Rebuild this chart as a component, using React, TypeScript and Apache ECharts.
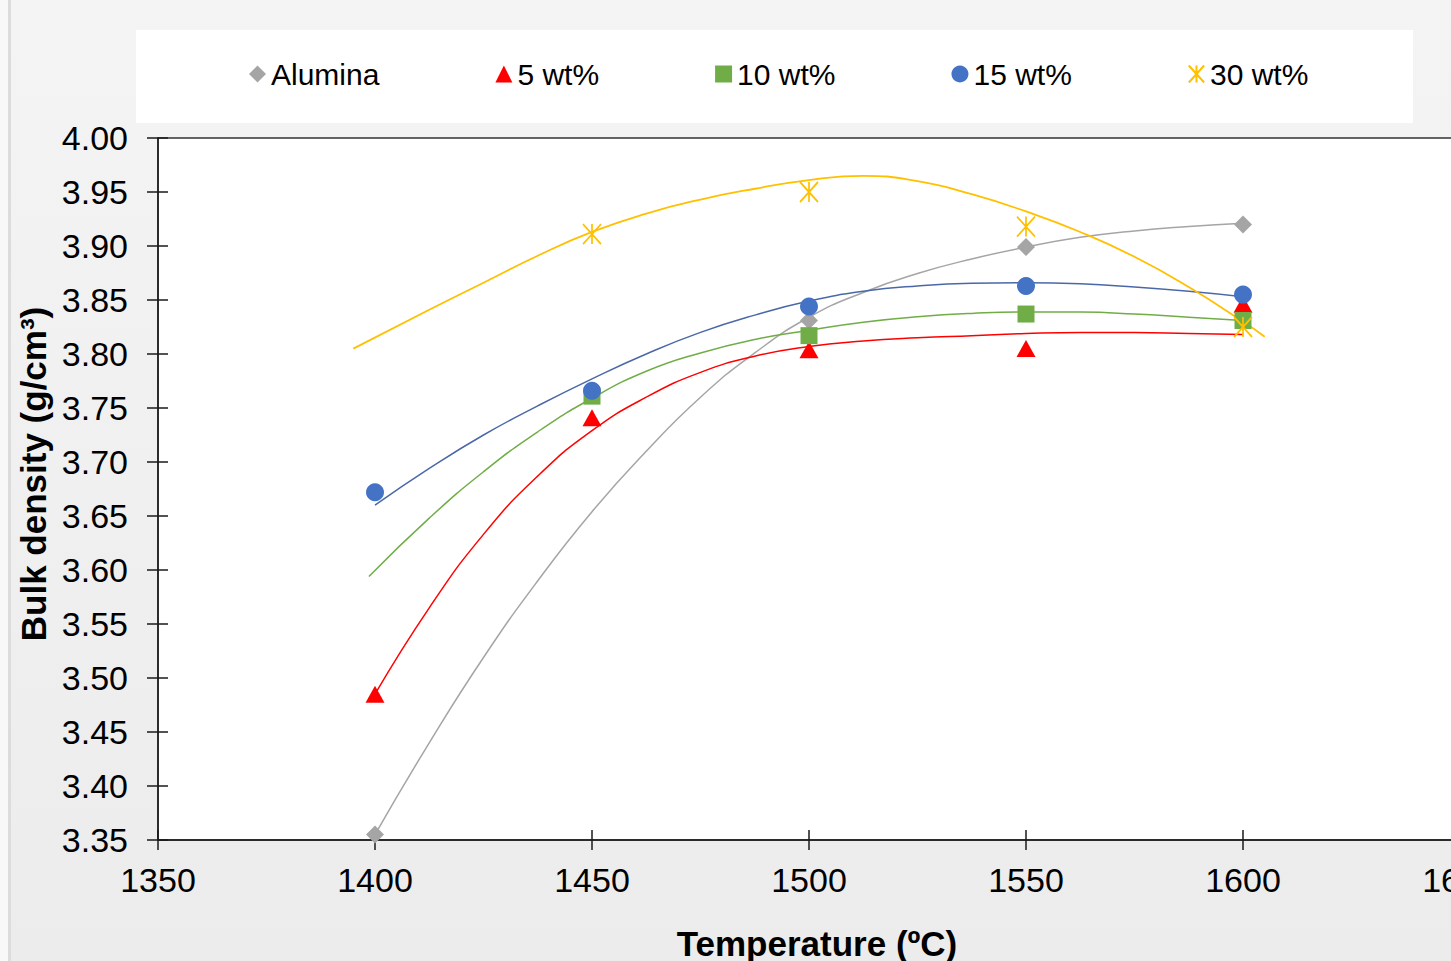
import React, { useEffect, useRef } from "react";
import * as echarts from "echarts";

const FONT = "'Liberation Sans', Arial, Helvetica, sans-serif";

// Measured data points
const temps = [1400, 1450, 1500, 1550, 1600];
const alumina = [3.355, null, 3.831, 3.899, 3.92];
const wt5 = [3.485, 3.741, 3.804, 3.805, 3.846];
const wt10 = [null, 3.761, 3.817, 3.837, 3.831];
const wt15 = [3.672, 3.766, 3.844, 3.863, 3.855];
const wt30 = [null, 3.911, 3.95, 3.918, 3.825];

// Trendlines
const trendX = [1400, 1412.5, 1425, 1437.5, 1450, 1462.5, 1475, 1487.5, 1500, 1512.5, 1525, 1537.5, 1550, 1562.5, 1575, 1587.5, 1600];
const aluminaTrendY = [3.355, 3.44, 3.519, 3.59, 3.654, 3.71, 3.76, 3.801, 3.834, 3.857, 3.8745, 3.888, 3.899, 3.908, 3.914, 3.918, 3.921];
const wt5TrendY = [3.485, 3.565, 3.633, 3.687, 3.729, 3.76, 3.783, 3.798, 3.807, 3.812, 3.815, 3.817, 3.819, 3.82, 3.82, 3.819, 3.818];
const wt15TrendY = [3.66, 3.694, 3.725, 3.752, 3.777, 3.8, 3.82, 3.836, 3.849, 3.858, 3.863, 3.8655, 3.866, 3.865, 3.862, 3.858, 3.853];
const wt10TrendX = [1398.6, 1412.5, 1425, 1437.5, 1450, 1462.5, 1475, 1487.5, 1500, 1512.5, 1525, 1537.5, 1550, 1562.5, 1575, 1587.5, 1600];
const wt10TrendY = [3.594, 3.648, 3.691, 3.728, 3.759, 3.784, 3.801, 3.8135, 3.822, 3.8295, 3.8345, 3.8376, 3.839, 3.8388, 3.837, 3.834, 3.831];
const wt30TrendX = [1395, 1412.5, 1425, 1437.5, 1450, 1462.5, 1475, 1487.5, 1500, 1512.5, 1525, 1537.5, 1550, 1562.5, 1575, 1587.5, 1600, 1605];
const wt30TrendY = [3.805, 3.841, 3.866, 3.891, 3.913, 3.93, 3.943, 3.953, 3.961, 3.965, 3.96, 3.948, 3.932, 3.913, 3.89, 3.862, 3.83, 3.816];

const seriesNames = ["Alumina", "5 wt%", "10 wt%", "15 wt%", "30 wt%"];
const xTitle = "Temperature (ºC)";
const yTitle = "Bulk density (g/cm³)";

const pairs = (xs: number[], ys: (number | null)[]) =>
  xs.map((x, i) => [x, ys[i]]).filter((p) => p[1] !== null);

const STAR = "path://M0,0L18,20M18,0L0,20M9,0L9,20";

export default function App() {
  const ref = useRef<HTMLDivElement>(null);
  useEffect(() => {
    document.body.style.margin = "0";
    const chart = echarts.init(ref.current!, null, { renderer: "svg" });
    const axisCommon = {
      type: "value" as const,
      splitLine: { show: false },
    };
    const trend = (xs: number[], ys: number[], color: string, width = 1.5) => ({
      type: "line",
      data: pairs(xs, ys),
      smooth: 0.5,
      showSymbol: false,
      symbol: "none",
      silent: true,
      lineStyle: { color, width },
      z: 2,
    });
    const scatter = (name: string, ys: (number | null)[], symbol: string, size: any, color: string, extra: any = {}) => ({
      type: "scatter",
      name,
      data: pairs(temps, ys),
      symbol,
      symbolSize: size,
      itemStyle: { color, opacity: 1, ...extra },
      z: 3,
    });
    const option: any = {
      animation: false,
      backgroundColor: "transparent",
      grid: {
        left: 158,
        top: 138,
        right: -9,
        bottom: 121,
        containLabel: false,
        outerBoundsMode: "none",
        show: true,
        backgroundColor: "#ffffff",
        borderColor: "#333333",
        borderWidth: 1.5,
      },
      legend: {
        data: seriesNames,
        left: 244,
        top: 54,
        itemGap: 116,
        itemWidth: 17,
        itemHeight: 17,
        textStyle: { fontFamily: FONT, fontSize: 30, color: "#000" },
        selectedMode: false,
      },
      graphic: [
        {
          type: "rect",
          shape: { x: 136, y: 30, width: 1277, height: 93 },
          style: { fill: "#ffffff" },
          z: -10,
          silent: true,
        },
        {
          type: "text",
          x: 817,
          y: 943,
          style: {
            text: xTitle,
            font: `bold 35px ${FONT}`,
            fill: "#000",
            align: "center",
            verticalAlign: "middle",
          },
        },
        {
          type: "text",
          x: 33,
          y: 474,
          rotation: Math.PI / 2,
          style: {
            text: yTitle,
            font: `bold 35px ${FONT}`,
            fill: "#000",
            align: "center",
            verticalAlign: "middle",
          },
        },
      ],
      xAxis: [
        {
          ...axisCommon,
          position: "bottom",
          min: 1350,
          max: 1650,
          interval: 50,
          axisLine: { show: true, lineStyle: { color: "#1a1a1a", width: 1.5 } },
          axisTick: { show: true, inside: false, length: 10, lineStyle: { color: "#1a1a1a", width: 1.5 } },
          axisLabel: {
            show: true,
            margin: 23,
            fontFamily: FONT,
            fontSize: 34,
            color: "#000",
            showMaxLabel: true,
            showMinLabel: true,
            hideOverlap: false,
            formatter: (v: number) => String(v),
          },
        },
        {
          ...axisCommon,
          position: "bottom",
          min: 1350,
          max: 1650,
          interval: 50,
          axisLine: { show: false },
          axisTick: { show: true, inside: true, length: 10, lineStyle: { color: "#1a1a1a", width: 1.5 } },
          axisLabel: { show: false },
        },
      ],
      yAxis: [
        {
          ...axisCommon,
          position: "left",
          min: 3.35,
          max: 4.0,
          interval: 0.05,
          axisLine: { show: true, lineStyle: { color: "#1a1a1a", width: 1.5 } },
          axisTick: { show: true, inside: false, length: 11, lineStyle: { color: "#1a1a1a", width: 1.5 } },
          axisLabel: {
            show: true,
            margin: 30,
            fontFamily: FONT,
            fontSize: 34,
            color: "#000",
            formatter: (v: number) => v.toFixed(2),
          },
        },
        {
          ...axisCommon,
          position: "left",
          min: 3.35,
          max: 4.0,
          interval: 0.05,
          axisLine: { show: false },
          axisTick: { show: true, inside: true, length: 10, lineStyle: { color: "#1a1a1a", width: 1.5 } },
          axisLabel: { show: false },
        },
      ],
      series: [
        trend(trendX, aluminaTrendY, "#a5a5a5"),
        trend(trendX, wt5TrendY, "#ff0000"),
        trend(wt10TrendX, wt10TrendY, "#70ad47"),
        trend(trendX, wt15TrendY, "#4a68a8"),
        trend(wt30TrendX, wt30TrendY, "#ffc000", 1.8),
        scatter(seriesNames[0], alumina, "diamond", 18, "#a5a5a5"),
        scatter(seriesNames[1], wt5, "triangle", [19, 17], "#ff0000"),
        scatter(seriesNames[2], wt10, "rect", 17, "#70ad47"),
        scatter(seriesNames[3], wt15, "circle", 18, "#4472c4"),
        scatter(seriesNames[4], wt30, STAR, [18, 20], "#ffc000", {
          borderColor: "#ffc000",
          borderWidth: 1.8,
        }),
      ],
    };
    chart.setOption(option);
    return () => chart.dispose();
  }, []);
  return (
    <div
      ref={ref}
      style={{
        position: "absolute",
        left: 0,
        top: 0,
        width: 1451,
        height: 961,
        background:
          "linear-gradient(to right, #f8f8f8 0px, #f8f8f8 8px, #dcdcdc 8px, #dcdcdc 11px, transparent 11px), linear-gradient(to bottom, #f4f4f4, #ececec)",
      }}
    />
  );
}
